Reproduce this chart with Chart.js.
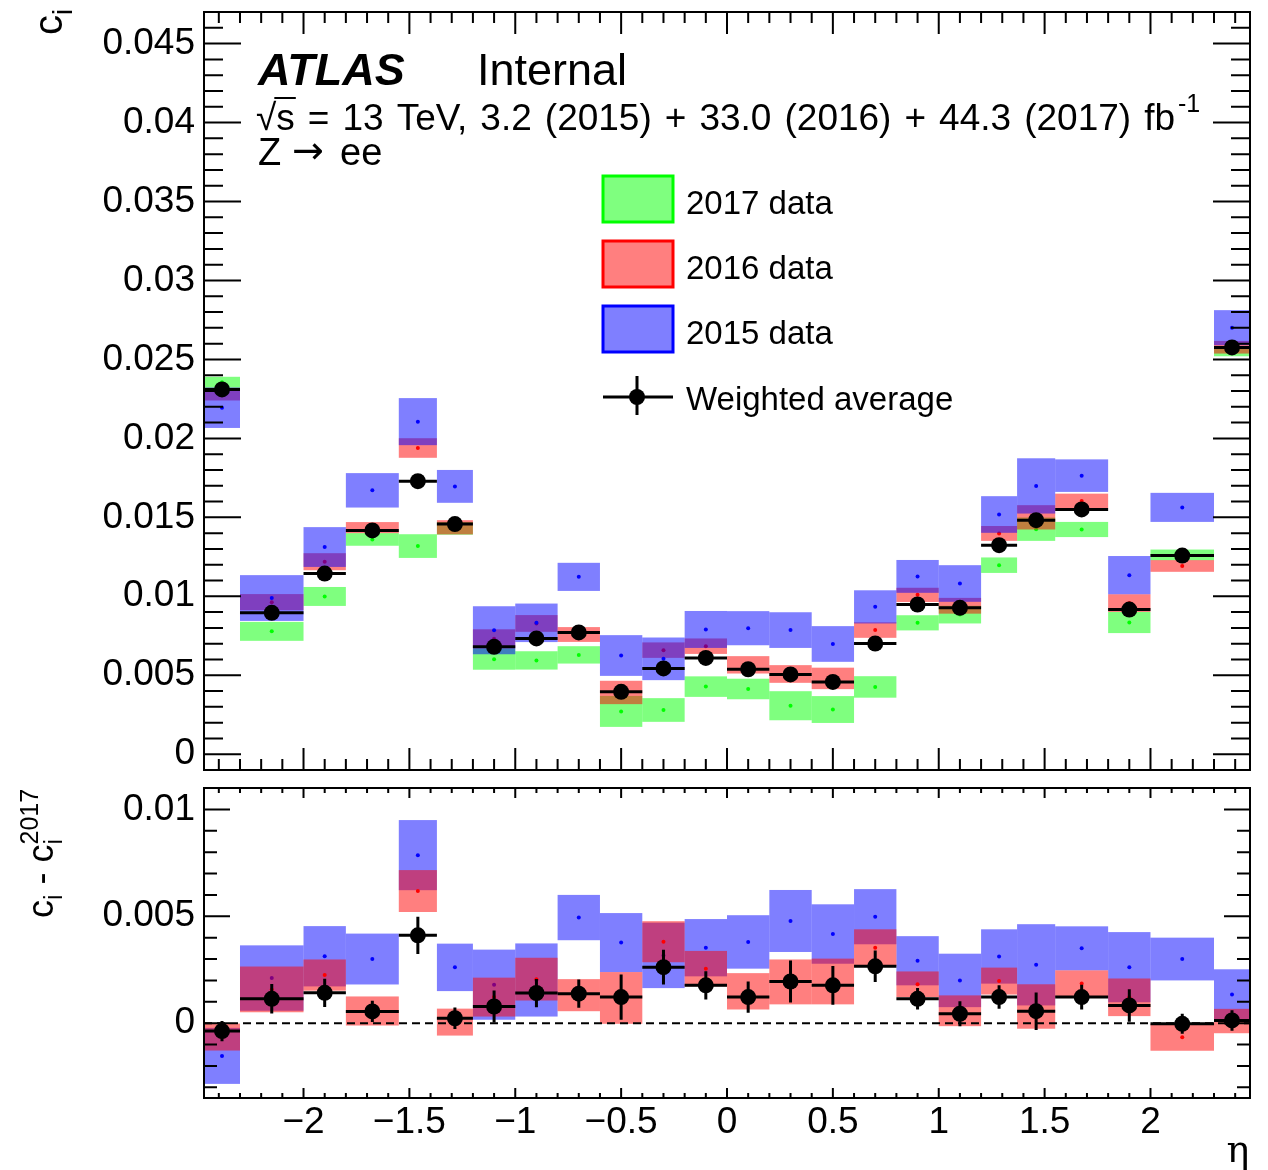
<!DOCTYPE html>
<html>
<head>
<meta charset="utf-8">
<title>c_i vs eta</title>
<script src="https://cdn.jsdelivr.net/npm/chart.js@4.4.1/dist/chart.umd.min.js"></script>
<style>
  html, body { margin: 0; padding: 0; background: #fff; }
  #wrap { position: relative; width: 1268px; height: 1170px; }
  #top { position: absolute; left: 0; top: 0; }
  #bottom { position: absolute; left: 0; top: 780px; }
</style>
</head>
<body>
<div id="wrap">
  <canvas id="top" width="1268" height="780"></canvas>
  <canvas id="bottom" width="1268" height="390"></canvas>
</div>
<script>
// --- eta binning ---
const etaEdges = [-2.47, -2.3, -2.0, -1.8, -1.55, -1.37, -1.2, -1.0, -0.8, -0.6, -0.4, -0.2, 0,
                  0.2, 0.4, 0.6, 0.8, 1.0, 1.2, 1.37, 1.55, 1.8, 2.0, 2.3, 2.47];

// --- top panel: c_i per year (central value, half height of band) ---
const c2015 = [0.02194, 0.00989, 0.01312, 0.01671, 0.02106, 0.01696, 0.00785, 0.00832, 0.01123, 0.00625, 0.00604, 0.0079,
               0.00798, 0.00786, 0.00698, 0.00933, 0.01126, 0.01081, 0.01518, 0.01699, 0.01764, 0.01134, 0.01563, 0.02701];
const c2015Err = [0.00128, 0.00145, 0.00126, 0.00109, 0.00149, 0.00104, 0.00152, 0.00122, 0.00089, 0.00129, 0.00135, 0.00117,
                  0.00108, 0.00113, 0.00113, 0.00105, 0.00104, 0.00116, 0.00116, 0.00175, 0.00103, 0.00121, 0.00092, 0.00111];
const c2016 = [0.0228, 0.00963, 0.01219, 0.01435, 0.01939, 0.01437, 0.00731, 0.00828, 0.00758, 0.00391, 0.00659, 0.00684,
               0.00566, 0.00508, 0.0048, 0.00786, 0.01009, 0.0094, 0.01398, 0.015, 0.01603, 0.00957, 0.01192, 0.02577];
const c2016Err = [0.0004, 0.00051, 0.00054, 0.00035, 0.00062, 0.00045, 0.0006, 0.00053, 0.00047, 0.00074, 0.00049, 0.00049,
                  0.00055, 0.00056, 0.00068, 0.00049, 0.00045, 0.0005, 0.00047, 0.00077, 0.00047, 0.00056, 0.00037, 0.0004];
const c2017 = [0.02355, 0.00778, 0.00999, 0.0136, 0.01318, 0.0143, 0.00602, 0.00594, 0.00629, 0.00271, 0.0028, 0.00428,
               0.00413, 0.00307, 0.00283, 0.00426, 0.00832, 0.00884, 0.01197, 0.01425, 0.01423, 0.00834, 0.01262, 0.0255];
const c2017Err = [0.00035, 0.0006, 0.0006, 0.0004, 0.00075, 0.0004, 0.00067, 0.00058, 0.00055, 0.00098, 0.00075, 0.00065,
                  0.00065, 0.00092, 0.00085, 0.00068, 0.00048, 0.00056, 0.00049, 0.00074, 0.00048, 0.00067, 0.00034, 0.0003];
const cAvg = [0.0231, 0.00895, 0.01144, 0.01417, 0.01729, 0.01457, 0.0068, 0.00733, 0.00771, 0.00395, 0.00543, 0.0061,
              0.00538, 0.00505, 0.00458, 0.00701, 0.00948, 0.00927, 0.01324, 0.01482, 0.0155, 0.00916, 0.01258, 0.02576];

// --- bottom panel: c_i - c_i^2017 ---
const d2015 = [-0.00153, 0.00211, 0.00313, 0.003, 0.00786, 0.00261, 0.0018, 0.00202, 0.00494, 0.00377, 0.00317, 0.00353,
               0.0038, 0.00478, 0.00417, 0.00498, 0.00292, 0.002, 0.00312, 0.00273, 0.0035, 0.00262, 0.003, 0.00134];
const d2015Err = [0.00131, 0.00153, 0.00141, 0.00119, 0.00164, 0.00111, 0.00164, 0.00171, 0.00106, 0.00138, 0.00153, 0.00134,
                  0.00125, 0.00145, 0.00139, 0.00129, 0.00115, 0.00125, 0.00127, 0.0019, 0.00103, 0.00164, 0.001, 0.00118];
const d2016 = [-0.00065, 0.00158, 0.00225, 0.00057, 0.00618, 0.00005, 0.00122, 0.00206, 0.00131, 0.00118, 0.00381, 0.00255,
               0.00149, 0.00193, 0.00195, 0.00353, 0.00182, 0.00058, 0.00197, 0.00078, 0.00185, 0.00121, -0.00066, 0.0001];
const d2016Err = [0.00063, 0.00107, 0.00073, 0.00068, 0.00098, 0.00063, 0.00091, 0.001, 0.00075, 0.00121, 0.00096, 0.00083,
                  0.00085, 0.00105, 0.00107, 0.00086, 0.0006, 0.00072, 0.00063, 0.00104, 0.00062, 0.00088, 0.00063, 0.00057];
const dAvg = [-0.00037, 0.00114, 0.00142, 0.00055, 0.00411, 0.00023, 0.00078, 0.00141, 0.00138, 0.00122, 0.00262, 0.00177,
              0.00122, 0.00195, 0.00177, 0.00266, 0.00114, 0.00044, 0.00122, 0.00056, 0.00122, 0.00083, -0.00003, 0.00013];
const dAvgErr = [0.00047, 0.00069, 0.00066, 0.0005, 0.00087, 0.0005, 0.00075, 0.00066, 0.00066, 0.00106, 0.00081, 0.00066,
                 0.00073, 0.00098, 0.00091, 0.00074, 0.0005, 0.00058, 0.00055, 0.00088, 0.00058, 0.00076, 0.00047, 0.00048];

// --- axis ticks ---
const yTicksTop = [0, 0.005, 0.01, 0.015, 0.02, 0.025, 0.03, 0.035, 0.04, 0.045];
const yLabelsTop = ['0', '0.005', '0.01', '0.015', '0.02', '0.025', '0.03', '0.035', '0.04', '0.045'];
const yTicksBottom = [0, 0.005, 0.01];
const yLabelsBottom = ['0', '0.005', '0.01'];
const xTickValues = [-2, -1.5, -1, -0.5, 0, 0.5, 1, 1.5, 2];
const xTickLabels = ['\u22122', '\u22121.5', '\u22121', '\u22120.5', '0', '0.5', '1', '1.5', '2'];

const legendLabels = ['2017 data', '2016 data', '2015 data', 'Weighted average'];

const FONT = "'Liberation Sans', Arial, sans-serif";
const etaMid = etaEdges.slice(0, -1).map((e, i) => (e + etaEdges[i + 1]) / 2);
const pts = arr => arr.map((v, i) => ({ x: etaMid[i], y: v }));

// boxes for each bin, and the black bin line / error bar for the average
const bandPlugin = {
    id: 'bands',
    beforeDatasetDraw(chart, args) {
        const ds = chart.data.datasets[args.index];
        const xs = chart.scales.x, ys = chart.scales.y, a = chart.chartArea;
        const ctx = chart.ctx;
        ctx.save();
        ctx.beginPath();
        ctx.rect(a.left, a.top, a.right - a.left, a.bottom - a.top);
        ctx.clip();
        ds.data.forEach((p, i) => {
            const x0 = xs.getPixelForValue(etaEdges[i]);
            const x1 = xs.getPixelForValue(etaEdges[i + 1]);
            if (ds.bandErr) {
                const y0 = ys.getPixelForValue(p.y + ds.bandErr[i]);
                const y1 = ys.getPixelForValue(p.y - ds.bandErr[i]);
                ctx.fillStyle = ds.bandColor;
                ctx.fillRect(x0, y0, x1 - x0, y1 - y0);
            }
            if (ds.isAverage) {
                const yc = ys.getPixelForValue(p.y);
                ctx.strokeStyle = '#000';
                ctx.lineWidth = 3;
                ctx.beginPath();
                ctx.moveTo(x0, yc);
                ctx.lineTo(x1, yc);
                if (ds.avgErr) {
                    const xc = xs.getPixelForValue(p.x);
                    ctx.moveTo(xc, ys.getPixelForValue(p.y + ds.avgErr[i]));
                    ctx.lineTo(xc, ys.getPixelForValue(p.y - ds.avgErr[i]));
                }
                ctx.stroke();
            }
        });
        ctx.restore();
    }
};

// ROOT style frame with inner ticks on all four sides
const framePlugin = {
    id: 'frame',
    afterDatasetsDraw(chart, args, o) {
        const ctx = chart.ctx, a = chart.chartArea;
        const xs = chart.scales.x, ys = chart.scales.y;
        ctx.save();
        ctx.strokeStyle = '#000';
        if (o.zeroLine) {
            ctx.lineWidth = 2;
            ctx.setLineDash([8, 5]);
            const y0 = ys.getPixelForValue(0);
            ctx.beginPath();
            ctx.moveTo(a.left, y0);
            ctx.lineTo(a.right, y0);
            ctx.stroke();
            ctx.setLineDash([]);
        }
        ctx.lineWidth = 2;
        ctx.beginPath();
        for (let k = Math.ceil(xs.min * 10 - 1e-9); k <= Math.floor(xs.max * 10 + 1e-9); k++) {
            const px = xs.getPixelForValue(k / 10);
            const len = k % 5 === 0 ? o.xMajor : o.xMinor;
            ctx.moveTo(px, a.bottom); ctx.lineTo(px, a.bottom - len);
            ctx.moveTo(px, a.top); ctx.lineTo(px, a.top + len);
        }
        for (let k = Math.ceil(ys.min * 1000 - 1e-9); k <= Math.floor(ys.max * 1000 + 1e-9); k++) {
            const py = ys.getPixelForValue(k / 1000);
            const len = k % 5 === 0 ? o.yMajor : o.yMinor;
            ctx.moveTo(a.left, py); ctx.lineTo(a.left + len, py);
            ctx.moveTo(a.right, py); ctx.lineTo(a.right - len, py);
        }
        ctx.stroke();
        ctx.strokeRect(a.left, a.top, a.right - a.left, a.bottom - a.top);
        ctx.restore();
    }
};

// rotated axis title made of pieces (sub / superscripts)
function drawRotatedTitle(ctx, xBase, yStart, parts) {
    ctx.save();
    ctx.translate(xBase, yStart);
    ctx.rotate(-Math.PI / 2);
    ctx.fillStyle = '#000';
    ctx.textBaseline = 'alphabetic';
    ctx.textAlign = 'left';
    let x = 0;
    parts.forEach(p => {
        const group = Array.isArray(p) ? p : [p];
        let w = 0;
        group.forEach(q => {
            ctx.font = q.size + 'px ' + FONT;
            ctx.fillText(q.t, x, q.dy || 0);
            w = Math.max(w, ctx.measureText(q.t).width);
        });
        x += w;
    });
    ctx.restore();
}

const topDecor = {
    id: 'topDecor',
    afterDraw(chart) {
        const ctx = chart.ctx;
        ctx.save();
        ctx.fillStyle = '#000';
        ctx.strokeStyle = '#000';
        ctx.textBaseline = 'alphabetic';
        ctx.textAlign = 'left';

        ctx.font = 'italic bold 45px ' + FONT;
        ctx.fillText('ATLAS', 258, 85);
        ctx.font = '45px ' + FONT;
        ctx.fillText('Internal', 477, 85);

        // sqrt(s) line, words spread out to the ROOT layout width
        ctx.font = '37px ' + FONT;
        ctx.fillText('\u221A', 256, 130);
        let x = 256 + ctx.measureText('\u221A').width;
        const sW = ctx.measureText('s').width;
        ctx.lineWidth = 2;
        ctx.beginPath();
        ctx.moveTo(x - 2, 98);
        ctx.lineTo(x + sW + 1, 98);
        ctx.stroke();
        const words = 's = 13 TeV, 3.2 (2015) + 33.0 (2016) + 44.3 (2017) fb'.split(' ');
        const textW = words.reduce((s, w) => s + ctx.measureText(w).width, 0);
        const gap = (1175 - x - textW) / (words.length - 1);
        words.forEach(w => {
            ctx.fillText(w, x, 130);
            x += ctx.measureText(w).width + gap;
        });
        x -= gap;
        ctx.font = '25px ' + FONT;
        ctx.fillText('-1', x + 3, 112);

        ctx.font = '38px ' + FONT;
        ctx.fillText('Z', 258, 165);
        ctx.font = '38px "DejaVu Sans", sans-serif';
        ctx.fillText('\u2192', 292, 163);
        ctx.font = '38px ' + FONT;
        ctx.fillText('ee', 340, 165);

        // legend
        const boxes = [
            { y: 176, fill: 'rgba(0,255,0,0.5)', line: '#00ff00' },
            { y: 241, fill: 'rgba(255,0,0,0.5)', line: '#ff0000' },
            { y: 306, fill: 'rgba(0,0,255,0.5)', line: '#0000ff' }
        ];
        ctx.font = '33px ' + FONT;
        ctx.textBaseline = 'middle';
        boxes.forEach((b, i) => {
            ctx.fillStyle = b.fill;
            ctx.fillRect(603, b.y, 70, 46);
            ctx.strokeStyle = b.line;
            ctx.lineWidth = 3;
            ctx.strokeRect(603, b.y, 70, 46);
            ctx.fillStyle = '#000';
            ctx.fillText(legendLabels[i], 686, b.y + 29);
        });
        ctx.strokeStyle = '#000';
        ctx.lineWidth = 3;
        ctx.beginPath();
        ctx.moveTo(603, 397); ctx.lineTo(673, 397);
        ctx.moveTo(637, 376); ctx.lineTo(637, 415);
        ctx.stroke();
        ctx.beginPath();
        ctx.arc(637, 397, 8, 0, Math.PI * 2);
        ctx.fill();
        ctx.fillText(legendLabels[3], 686, 401);
        ctx.restore();

        drawRotatedTitle(ctx, 62, 35, [{ t: 'c', size: 40 }, { t: 'i', size: 28, dy: 10 }]);
    }
};

const bottomDecor = {
    id: 'bottomDecor',
    afterDraw(chart) {
        const ctx = chart.ctx;
        drawRotatedTitle(ctx, 53, 138, [
            { t: 'c', size: 36 }, { t: 'i', size: 25, dy: 9 }, { t: ' - c', size: 36 },
            [{ t: '2017', size: 25, dy: -15 }, { t: 'i', size: 25, dy: 9 }]
        ]);
        ctx.save();
        ctx.fillStyle = '#000';
        ctx.font = '38px "DejaVu Serif", serif';
        ctx.textAlign = 'center';
        ctx.fillText('\u03B7', 1238, 382);
        ctx.restore();
    }
};

function yScale(min, max, ticks, labels) {
    return {
        type: 'linear', min: min, max: max,
        afterBuildTicks: s => { s.ticks = ticks.map(v => ({ value: v })); },
        afterFit: s => { s.width = 204; s.paddingTop = 0; s.paddingBottom = 0; },
        grid: { display: false, drawTicks: false },
        border: { display: false },
        ticks: { font: { family: FONT, size: 37 }, color: '#000', padding: 9,
                 callback: (v, i) => labels[i] }
    };
}

const commonPlugins = { legend: { display: false }, tooltip: { enabled: false } };

// top panel
new Chart(document.getElementById('top'), {
    type: 'scatter',
    data: {
        datasets: [
            { label: legendLabels[3], data: pts(cAvg), isAverage: true,
              pointRadius: 8, pointBackgroundColor: '#000', pointBorderWidth: 0 },
            { label: legendLabels[2], data: pts(c2015), bandErr: c2015Err, bandColor: 'rgba(0,0,255,0.5)',
              pointRadius: 2, pointBackgroundColor: '#0000ff', pointBorderWidth: 0 },
            { label: legendLabels[1], data: pts(c2016), bandErr: c2016Err, bandColor: 'rgba(255,0,0,0.5)',
              pointRadius: 2, pointBackgroundColor: '#ff0000', pointBorderWidth: 0 },
            { label: legendLabels[0], data: pts(c2017), bandErr: c2017Err, bandColor: 'rgba(0,255,0,0.5)',
              pointRadius: 2, pointBackgroundColor: '#00ff00', pointBorderWidth: 0 }
        ]
    },
    options: {
        responsive: false, animation: false, devicePixelRatio: 1, events: [],
        layout: { padding: { top: 12, right: 18, bottom: 10, left: 0 } },
        plugins: { ...commonPlugins, frame: { xMajor: 22, xMinor: 11, yMajor: 37, yMinor: 19 } },
        scales: {
            x: { type: 'linear', min: -2.47, max: 2.47, display: false },
            y: yScale(-0.001, 0.047, yTicksTop, yLabelsTop)
        }
    },
    plugins: [bandPlugin, framePlugin, topDecor]
});

// bottom panel
new Chart(document.getElementById('bottom'), {
    type: 'scatter',
    data: {
        datasets: [
            { label: legendLabels[3], data: pts(dAvg), isAverage: true, avgErr: dAvgErr,
              pointRadius: 8, pointBackgroundColor: '#000', pointBorderWidth: 0 },
            { label: legendLabels[1], data: pts(d2016), bandErr: d2016Err, bandColor: 'rgba(255,0,0,0.5)',
              pointRadius: 2, pointBackgroundColor: '#ff0000', pointBorderWidth: 0 },
            { label: legendLabels[2], data: pts(d2015), bandErr: d2015Err, bandColor: 'rgba(0,0,255,0.5)',
              pointRadius: 2, pointBackgroundColor: '#0000ff', pointBorderWidth: 0 }
        ]
    },
    options: {
        responsive: false, animation: false, devicePixelRatio: 1, events: [],
        layout: { padding: { top: 8, right: 18, bottom: 0, left: 0 } },
        plugins: { ...commonPlugins, frame: { xMajor: 10, xMinor: 5, yMajor: 26, yMinor: 13, zeroLine: true } },
        scales: {
            x: {
                type: 'linear', min: -2.47, max: 2.47,
                afterBuildTicks: s => { s.ticks = xTickValues.map(v => ({ value: v })); },
                afterFit: s => { s.height = 72; s.paddingLeft = 0; s.paddingRight = 0; },
                grid: { display: false, drawTicks: false },
                border: { display: false },
                ticks: { font: { family: FONT, size: 37 }, color: '#000', padding: 3,
                         autoSkip: false, maxRotation: 0, minRotation: 0,
                         callback: (v, i) => xTickLabels[i] }
            },
            y: yScale(-0.0035, 0.011, yTicksBottom, yLabelsBottom)
        }
    },
    plugins: [bandPlugin, framePlugin, bottomDecor]
});
</script>
</body>
</html>
